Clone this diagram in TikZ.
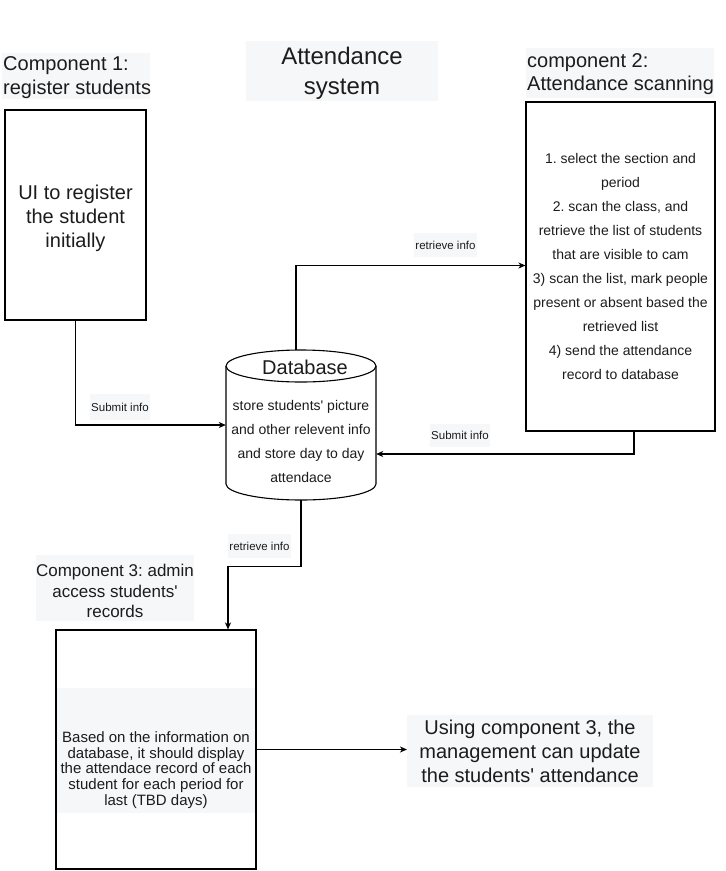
\documentclass[tikz,border=0pt]{standalone}
\usepackage{fontspec}
\setmainfont{Liberation Sans}
\usetikzlibrary{arrows.meta}
\definecolor{lblbg}{HTML}{F6F7F9}
\definecolor{txt}{HTML}{1C1C1C}
\newcommand{\q}{\textquotesingle}
\frenchspacing
\begin{document}
\begin{tikzpicture}[x=1pt,y=-1pt,
  box/.style={draw, line width=1.1pt, inner sep=0pt, text=txt, align=center},
  conn/.style={draw, line width=1.1pt, -{Stealth[length=7pt,width=6pt,inset=2pt]}},
  bg/.style={fill=lblbg, inner sep=1pt, text=txt},
  plain/.style={text=txt, inner sep=0pt},
  small/.style={font=\fontsize{11.5}{13}\selectfont},
  big/.style={font=\fontsize{20}{23.5}\selectfont},
  mid/.style={font=\fontsize{14}{24}\selectfont}]
\useasboundingbox (0,0) rectangle (726,871);

% label backgrounds
\fill[lblbg] (246,41) rectangle (438,101);
\fill[lblbg] (2,53) rectangle (150,99);
\fill[lblbg] (526,48) rectangle (714,98);
\fill[lblbg] (36,555) rectangle (194,621);
\fill[lblbg] (407,715) rectangle (653,787);
\fill[lblbg] (56,688) rectangle (255,813);

% title and component labels
\node[plain, align=center, font=\fontsize{24}{30}\selectfont] (title) at (342,73.5)
      {Attendance\\system};
\node[plain, big, align=left, anchor=west] (c1lbl) at (3,77.5)
      {Component 1:\\register students};
\node[plain, big, align=left, anchor=west] (c2lbl) at (527,74)
      {component 2:\\Attendance scanning};
\node[plain, align=center, font=\fontsize{17}{20.5}\selectfont] (c3lbl) at (115,591)
      {Component 3: admin\\access students\q\\records};

% boxes
\node[box, minimum width=141pt, minimum height=210pt] (box1) at (75.5,215) {};
\node[plain, align=center, font=\fontsize{20}{24}\selectfont] (box1txt) at (75.5,218)
      {UI to register\\the student\\initially};
\node[box, mid, minimum width=189pt, minimum height=329pt] (box2) at (620.5,266.5)
      {1. select the section and\\period\\2. scan the class, and\\retrieve the list of students\\that are visible to cam\\3) scan the list, mark people\\present or absent based the\\retrieved list\\4) send the attendance\\record to database};
\node[box, minimum width=200pt, minimum height=239pt] (box3) at (156,749.5) {};
\node[plain, align=center, font=\fontsize{15}{15.8}\selectfont] (box3txt) at (156,770)
      {Based on the information on\\database, it should display\\the attendace record of each\\student for each period for\\last (TBD days)};

% database cylinder
\node[minimum width=150pt, minimum height=150pt, inner sep=0pt] (db) at (301,425) {};
\draw[line width=1.1pt, fill=white] (226,366) -- (226,484)
   .. controls (226,492.84) and (259.6,500) .. (301,500)
   .. controls (342.4,500) and (376,492.84) .. (376,484) -- (376,366);
\draw[line width=1.1pt, fill=white] (301,366) ellipse [x radius=75, y radius=16];
\node[plain, font=\fontsize{20}{24}\selectfont] (dbtitle) at (305,367) {Database};
\node[plain, align=center, mid] (dbtxt) at (301,441)
      {store students\q\ picture\\and other relevent info\\and store day to day\\attendace};

% result text
\node[plain, align=center, font=\fontsize{20}{24}\selectfont] (use) at (530,751)
      {Using component 3, the\\management can update\\the students\q\ attendance};
\coordinate (usein) at (407,751);

% connectors
\draw[conn] (box1.south) |- (db.west);
\draw[conn] ([xshift=-5pt]db.north) |- ([yshift=1pt]box2.west);
\draw[conn] ([xshift=13.5pt]box2.south) |- ([yshift=-29pt]db.east);
\draw[conn] (db.south) -- ++(0,66) -| ([xshift=72pt]box3.north);
\draw[conn] (box3.east) -- (box3.east -| usein);

% connector labels
\node[bg, small, minimum width=60pt, minimum height=26pt] (s1) at (120,407) {Submit info};
\node[bg, small, minimum width=61pt, minimum height=24pt] (r1) at (445.5,245) {retrieve info};
\node[bg, small, minimum width=60pt, minimum height=23pt] (s2) at (460,435.5) {Submit info};
\node[bg, small, minimum width=63pt, minimum height=24pt] (r2) at (259.5,546) {retrieve info};
\end{tikzpicture}
\end{document}
